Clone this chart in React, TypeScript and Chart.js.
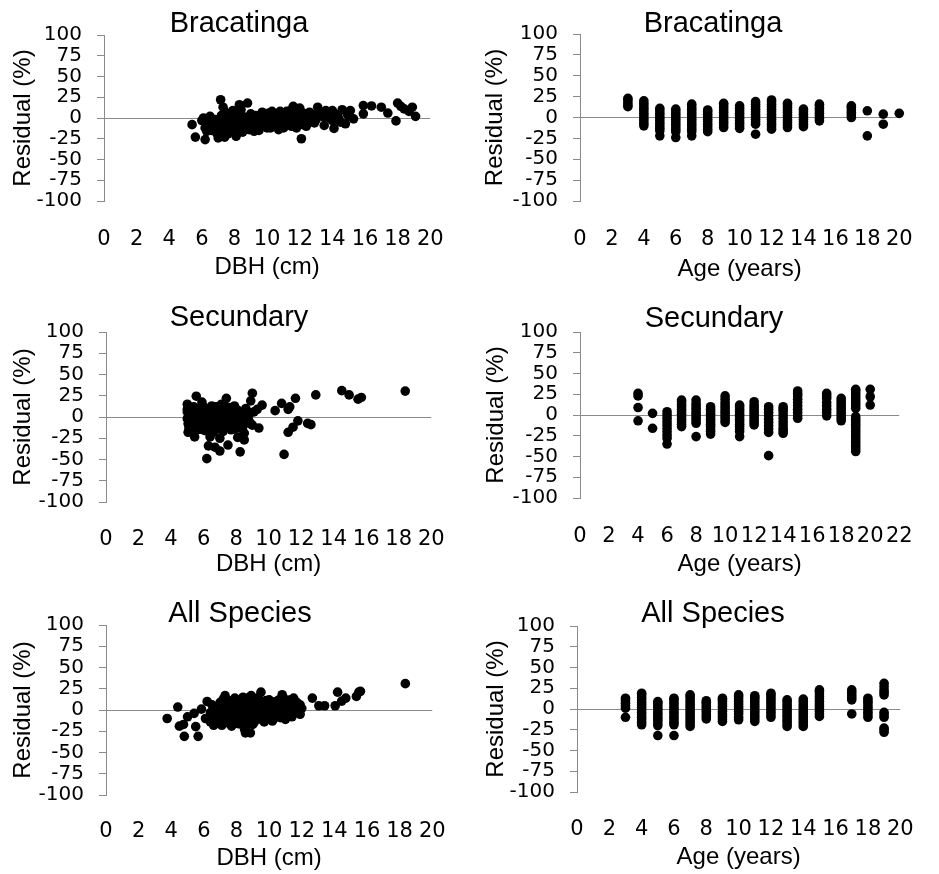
import React, { useEffect, useRef } from "react";
import { Chart, registerables } from "chart.js";

Chart.register(...registerables);

type Pair = [number, number];
type Column = [number, number[]];

// ---------- DATA ----------
const panelTitles = ["Bracatinga", "Bracatinga", "Secundary", "Secundary", "All Species", "All Species"];
const xAxisTitles = ["DBH (cm)", "Age (years)", "DBH (cm)", "Age (years)", "DBH (cm)", "Age (years)"];
const yAxisTitle = "Residual (%)";
const xMaxValues = [20, 20, 20, 22, 20, 20];
const xStep = 2;
const yMin = -100;
const yMax = 100;
const yStep = 25;

const bracatingaDbh: Pair[] = [
  [5.4, -8], [5.6, -23], [6.2, -26], [6.0, -3], [6.1, 0], [6.3, -8], [6.4, -12], [6.5, -5], [6.6, -15], [6.7, -9],
  [6.8, -2], [6.9, -14], [7.0, -24], [7.0, -6], [7.1, -11], [7.15, 22], [7.2, 3], [7.25, -18], [7.3, 13], [7.3, -4],
  [7.4, -23], [7.4, 8], [7.5, -9], [7.5, 0], [7.6, -14], [7.6, 5], [7.7, -3], [7.8, -10], [7.8, 2], [7.9, -6],
  [8.0, -16], [8.0, 6], [8.1, -22], [8.1, -1], [8.2, -8], [8.3, 16], [8.3, -12], [8.4, 3], [8.5, -5], [8.5, -17],
  [8.6, 1], [8.7, -9], [8.8, 18], [8.8, -3], [8.9, -14], [9.0, 5], [9.0, -7], [9.1, -1], [9.2, -11], [9.3, 3],
  [9.4, -5], [9.5, -15], [9.6, 0], [9.7, -8], [9.8, 4], [9.9, -3], [10.0, -12], [10.1, 6], [10.2, -6], [10.3, 0],
  [10.4, -9], [10.5, 4], [10.6, -2], [10.7, -14], [10.8, 8], [10.9, -5], [11.0, 1], [11.1, -10], [11.2, -3], [11.3, 5],
  [11.4, -8], [11.5, 10], [11.6, 14], [11.7, -1], [11.8, -12], [11.9, 3], [12.0, -6], [12.1, -25], [12.2, 6], [12.3, -2],
  [12.4, -10], [12.5, 2], [12.6, 7], [12.7, -4], [12.8, 4], [13.0, -2], [13.1, 13], [13.2, 8], [13.4, 2], [13.5, -9],
  [13.6, 9], [13.8, 5], [14.0, 9], [14.1, -12.5], [14.2, 0], [14.3, 4], [14.5, -5], [14.6, 10], [14.8, -7], [15.0, 2],
  [15.1, 9], [15.3, -1], [15.9, 15], [15.9, 5], [16.4, 14.5], [17.0, 13], [17.4, 6], [17.9, -3.5], [18.0, 18], [18.2, 14],
  [18.4, 11], [18.7, 8], [18.9, 13], [19.1, 2],
  [6.3, -16], [6.6, -6], [6.9, -18], [7.2, -8], [7.7, -16], [8.2, 0], [8.6, -10], [9.2, -16], [9.5, -1], [10.0, 2],
  [10.6, -8], [11.0, -12], [6.5, 2], [7.9, 9], [8.4, 10], [9.7, 7], [10.3, 8], [11.2, 8], [12.0, 12],
  [6.2, -12], [6.4, -4], [6.7, -13], [6.8, -7], [7.0, -16], [7.1, -2], [7.3, -12], [7.5, -6], [7.6, -19], [7.8, -13],
  [8.0, -4], [8.2, -15], [8.4, -8], [8.7, -2], [8.9, -10], [9.1, -6], [9.3, -13], [9.4, 1], [9.6, -10], [9.8, -6],
  [10.0, -4], [10.2, -12], [10.4, -3], [10.6, 2], [10.8, -9], [11.0, -6], [11.3, -2], [11.5, -10], [11.7, 3], [12.0, -1],
  [12.2, -8], [12.6, -3], [12.9, -6], [13.3, 6], [13.7, 1], [14.0, -3], [14.4, -1], [14.9, 5],
];

const bracatingaAge: Column[] = [
  [3, [13, 15, 18, 21, 23]],
  [4, [-10, -7, -4, -1, 2, 5, 8, 11, 14, 17, 20]],
  [5, [-22, -16, -13, -10, -7, -4, -1, 2, 5, 8, 11]],
  [6, [-24, -17, -14, -11, -8, -5, -2, 1, 4, 7, 10]],
  [7, [-22, -17, -14, -11, -8, -5, -2, 1, 4, 7, 10, 13, 16]],
  [8, [-17, -14, -11, -8, -5, -2, 1, 4, 7, 9]],
  [9, [-12, -9, -6, -3, 0, 3, 6, 9, 12, 15, 17]],
  [10, [-13, -10, -7, -4, -1, 2, 5, 8, 11, 14]],
  [11, [-20, -8, -5, -2, 1, 4, 7, 10, 13, 16, 19]],
  [12, [-14, -11, -8, -5, -2, 1, 4, 7, 10, 13, 16, 19, 21]],
  [13, [-12, -9, -6, -3, 0, 3, 6, 9, 12, 15, 17]],
  [14, [-11, -8, -5, -2, 1, 4, 7, 10]],
  [15, [-4, -1, 2, 5, 8, 11, 14, 16]],
  [17, [0, 3, 6, 9, 12, 14]],
  [18, [-22, 8]],
  [19, [-8, 4]],
  [20, [5]],
];

const secundaryDbh: Pair[] = [
  [5.0, 15], [5.0, 6], [5.0, -2], [5.05, -8], [5.05, -18], [5.1, 3], [5.2, -5], [5.2, 10], [5.3, -12], [5.4, 0],
  [5.45, -23.5], [5.5, 7], [5.55, 24.5], [5.6, -8], [5.6, -15], [5.7, 2], [5.8, 11], [5.8, -4], [5.9, 17.6], [5.9, -11],
  [6.0, -1], [6.0, 6], [6.1, -16], [6.2, -49], [6.2, 4], [6.2, -7], [6.3, -34], [6.3, 9], [6.4, -23.5], [6.4, -3],
  [6.5, 13], [6.5, -12], [6.6, 1], [6.6, -18], [6.7, -35.5], [6.7, 7], [6.8, -6], [6.8, -14], [6.9, 3], [6.9, 12],
  [7.0, -25], [7.0, -40], [7.0, -9], [7.1, 0], [7.1, 15], [7.2, -4], [7.2, -17], [7.3, 8], [7.4, 22], [7.4, -11],
  [7.5, -33], [7.5, 2], [7.6, -7], [7.6, 11], [7.7, -2], [7.7, -15], [7.8, 5], [7.9, -10], [7.9, 13], [8.0, -4],
  [8.0, 3], [8.1, -24], [8.1, 8], [8.2, -13], [8.25, -41], [8.3, 0], [8.4, -7], [8.5, -27], [8.5, -19], [8.5, 5],
  [8.6, 10], [8.7, -2], [8.8, 3], [8.9, 19], [8.9, -8], [9.0, 28], [9.0, -9.5], [9.1, 6], [9.3, 9], [9.4, -13],
  [9.6, 14], [10.4, 7.5], [10.8, 16], [10.95, -44], [11.2, -18], [11.2, 9], [11.3, 12], [11.5, -12], [11.65, 22], [11.8, -4.5],
  [12.4, -7.5], [12.6, -9], [12.9, 26], [14.5, 31], [14.95, 26], [15.5, 21], [15.7, 23], [18.4, 30.5],
  [5.3, 4], [5.7, -3], [6.0, -9], [6.3, 2], [6.5, -5], [6.8, 1], [7.0, 6], [7.3, -3], [7.5, -12], [7.8, -6],
  [8.0, 9], [8.3, -9], [5.5, -2], [6.1, -12], [6.6, 5], [7.2, 10], [7.6, -1], [8.2, 5], [6.4, -8], [6.9, -10],
  [7.4, 1], [5.8, -7], [6.2, -3], [7.9, 0], [8.6, -4],
  [5.1, -10], [5.2, 1], [5.3, 8], [5.4, -6], [5.5, -13], [5.6, 4], [5.7, 9], [5.8, -14], [5.9, 1], [6.0, 12],
  [6.0, -15], [6.1, -5], [6.2, 8], [6.3, -10], [6.4, 5], [6.5, -1], [6.5, 9], [6.6, -9], [6.7, -3], [6.7, 12],
  [6.8, 5], [6.9, -5], [7.0, 2], [7.0, -14], [7.1, -7], [7.2, 4], [7.3, -9], [7.3, 13], [7.4, -5], [7.5, 7],
  [7.6, -10], [7.7, 3], [7.8, -2], [7.8, 9], [7.9, -14], [8.0, -8], [8.1, 1], [8.2, -4], [8.3, 5], [8.4, -12],
  [8.5, -1], [8.6, 1], [8.7, 6], [8.8, -5], [5.0, 9], [5.1, -14], [5.4, 12], [5.6, -2], [6.2, -14], [6.9, 8],
];

const secundaryAge: Column[] = [
  [4, [-7, 9, 23, 26]],
  [5, [-16, 2]],
  [6, [-35, -28, -24, -20, -16, -12, -8, -4, 0, 4]],
  [7, [-14, -11, -8, -5, -2, 1, 4, 7, 10, 13, 16, 18]],
  [8, [-26, -10, -7, -4, -1, 2, 5, 8, 11, 14, 18]],
  [9, [-23, -20, -17, -14, -11, -8, -5, -2, 1, 4, 7, 10]],
  [10, [-9, -6, -3, 0, 3, 6, 9, 12, 15, 19, 23]],
  [11, [-26, -20, -17, -14, -11, -8, -5, -2, 1, 4, 7, 10, 12]],
  [12, [-12, -9, -6, -3, 0, 3, 6, 9, 12, 16]],
  [13, [-49, -21, -17, -13, -9, -5, -1, 3, 7, 10]],
  [14, [-22, -19, -16, -12, -8, -4, 0, 4, 7, 10]],
  [15, [-4, -1, 3, 7, 11, 15, 19, 23, 26, 29]],
  [17, [-1, 3, 7, 11, 15, 20, 23, 26]],
  [18, [-7, -4, -1, 2, 5, 8, 11, 14, 17, 20]],
  [19, [-44, -41, -38, -35, -32, -29, -26, -23, -20, -17, -14, -11, -8, -5, -2, 8, 11, 14, 17, 20, 23, 26, 29, 31]],
  [20, [12, 22, 31]],
];

const allSpeciesDbh: Pair[] = [
  [3.75, -10], [4.4, 3.5], [4.5, -19], [4.75, -17], [4.8, -31], [5.0, -8], [5.4, -4], [5.5, -19.5], [5.65, -31], [5.85, 1],
  [6.2, 10], [6.1, -10],
  [6.4, -3], [6.5, -12], [6.6, 4], [6.7, -8], [6.8, -15], [6.9, 1], [7.0, -5], [7.0, 9], [7.1, -18], [7.2, -10],
  [7.3, 17], [7.3, 3], [7.4, -2], [7.5, -14], [7.5, 11], [7.6, -7], [7.7, 6], [7.7, -19], [7.8, 0], [7.9, -11],
  [7.9, 14], [8.0, -4], [8.0, 5], [8.1, -16], [8.2, 10], [8.2, -8], [8.3, 1], [8.4, -13], [8.4, 15], [8.5, -23],
  [8.5, -3], [8.55, -27], [8.6, 7], [8.7, -10], [8.8, 2], [8.85, -27], [8.9, -6], [8.9, 17], [9.0, 10], [9.1, -14],
  [9.1, -1], [9.2, 5], [9.3, -9], [9.3, 14], [9.4, 0], [9.5, 21], [9.5, -5], [9.6, -12], [9.7, 8], [9.8, -3],
  [9.9, 3], [10.0, -8], [10.0, 12], [10.1, 0], [10.2, -5], [10.3, 6], [10.4, -2], [10.5, 9], [10.6, -7], [10.7, 2],
  [10.8, 18], [10.8, -3], [10.9, 5], [11.0, -11], [11.1, 1], [11.2, 8], [11.3, -4], [11.5, 14], [11.6, 0], [11.9, 6],
  [11.9, -5], [12.65, 14], [13.05, 5], [13.4, 5], [14.05, 5], [14.2, 21], [14.45, 10.5], [14.7, 14], [15.35, 16], [15.5, 21],
  [15.6, 22], [18.35, 31],
  [6.6, -18], [7.2, 13], [7.6, 2], [8.1, -1], [8.6, -18], [9.0, -17], [9.4, -8], [9.8, 6], [10.3, -10], [10.6, 4],
  [7.0, -12], [7.4, 7], [8.3, -6], [8.8, 11], [9.2, -4], [9.6, 3], [10.1, -11], [11.4, -8], [12.0, 2], [6.8, -1],
  [7.9, 4], [8.0, -13], [9.9, -6], [10.4, 10],
  [6.4, -14], [6.5, 6], [6.6, -9], [6.7, 2], [6.9, -12], [7.0, 0], [7.1, 5], [7.2, -4], [7.3, -15], [7.4, 12],
  [7.5, -9], [7.6, -3], [7.7, 9], [7.8, -12], [7.9, -6], [8.0, 12], [8.1, 6], [8.2, -3], [8.3, -17], [8.4, 4],
  [8.5, 9], [8.6, -7], [8.7, 14], [8.8, -13], [8.9, -1], [9.0, 4], [9.1, 9], [9.2, -10], [9.3, -2], [9.4, 12],
  [9.5, 1], [9.6, -7], [9.7, -14], [9.8, 11], [9.9, -10], [10.0, 4], [10.1, 8], [10.2, -13], [10.3, -1], [10.5, -5],
  [10.6, 12], [10.7, -9], [10.9, -2], [11.0, 7], [11.2, -6], [11.4, 4], [11.7, 9], [11.8, -2], [10.9, 14], [11.3, 12],
];

const allSpeciesAge: Column[] = [
  [3, [-10, 1, 4, 7, 10, 13]],
  [4, [-19, -16, -13, -10, -7, -4, -1, 2, 5, 8, 11, 14, 17, 19]],
  [5, [-32, -20, -17, -14, -11, -8, -5, -2, 1, 4, 7, 9]],
  [6, [-32, -19, -16, -13, -10, -7, -4, -1, 2, 5, 8, 11, 13]],
  [7, [-21, -18, -15, -12, -9, -6, -3, 0, 3, 6, 9, 12, 15, 17]],
  [8, [-12, -9, -6, -3, 0, 3, 6, 8, 10]],
  [9, [-15, -12, -9, -6, -3, 0, 3, 6, 9, 11, 13]],
  [10, [-13, -10, -6, -3, 0, 3, 6, 9, 12, 15, 17]],
  [11, [-15, -12, -9, -6, -3, 0, 3, 6, 9, 12, 14, 16]],
  [12, [-10, -7, -4, -1, 2, 5, 8, 11, 14, 17, 19]],
  [13, [-21, -18, -15, -12, -9, -6, -3, 0, 3, 6, 9, 11]],
  [14, [-21, -18, -15, -12, -9, -6, -3, 0, 3, 6, 9, 12]],
  [15, [-9, -6, -3, 0, 3, 6, 9, 12, 15, 18, 21, 23]],
  [17, [-6, 11, 14, 17, 20, 23]],
  [18, [-10, -7, -4, -1, 2, 5, 8, 10, 13]],
  [19, [-28, -25, -23, -10, -7, -4, 17, 20, 23, 27, 31]],
];

// ---------- LAYOUT (page pixel positions) ----------
type PanelLayout = {
  L: number; T: number; W: number; H: number;
  areaL: number; areaR: number; areaT: number; areaB: number;
  titleX: number; titleY: number; yTitleX: number; xTickY: number; xTitleY: number;
};

const panelLayouts: PanelLayout[] = [
  { L: 0, T: 0, W: 470, H: 290, areaL: 104, areaR: 450, areaT: 35, areaB: 201, titleX: 239, titleY: 24, yTitleX: 23, xTickY: 240, xTitleY: 267 },
  { L: 470, T: 0, W: 469, H: 290, areaL: 580, areaR: 925, areaT: 34, areaB: 201, titleX: 713, titleY: 24, yTitleX: 495, xTickY: 240, xTitleY: 269 },
  { L: 0, T: 290, W: 470, H: 290, areaL: 106, areaR: 451, areaT: 332, areaB: 502, titleX: 239, titleY: 318, yTitleX: 23, xTickY: 540, xTitleY: 564 },
  { L: 470, T: 290, W: 469, H: 290, areaL: 580, areaR: 925, areaT: 332, areaB: 498, titleX: 714, titleY: 319, yTitleX: 496, xTickY: 537, xTitleY: 564 },
  { L: 0, T: 580, W: 470, H: 294, areaL: 106, areaR: 452, areaT: 625, areaB: 795, titleX: 240, titleY: 614, yTitleX: 23, xTickY: 832, xTitleY: 858 },
  { L: 470, T: 580, W: 469, H: 294, areaL: 577, areaR: 923, areaT: 626, areaB: 792, titleX: 713, titleY: 614, yTitleX: 496, xTickY: 830, xTitleY: 857 },
];

const pairsToPoints = (pairs: Pair[]) => pairs.map(([x, y]) => ({ x, y }));
const columnsToPoints = (cols: Column[]) => cols.flatMap(([x, ys]) => ys.map((y) => ({ x, y })));

const panelData = [
  pairsToPoints(bracatingaDbh),
  columnsToPoints(bracatingaAge),
  pairsToPoints(secundaryDbh),
  columnsToPoints(secundaryAge),
  pairsToPoints(allSpeciesDbh),
  columnsToPoints(allSpeciesAge),
];

const SANS = '"Liberation Sans", Arial, sans-serif';
const TICK_FAMILY = '"DejaVu Sans", sans-serif';
const AXIS_TITLE_SIZE = 24;
const X_TICK_SIZE = 21;
const Y_TICK_SIZE = 20;
const PANEL_TITLE_SIZE = 29;
const GRAY = "#8a8a8a";

function Panel({ index }: { index: number }) {
  const ref = useRef<HTMLCanvasElement | null>(null);
  const lay = panelLayouts[index];

  useEffect(() => {
    if (!ref.current) return;
    const axisLH = AXIS_TITLE_SIZE * 1.2;
    const tickLH = X_TICK_SIZE * 1.2;
    const xScaleHeight = lay.xTitleY - lay.areaB + axisLH / 2;
    const yScaleWidth = lay.areaL - lay.L;
    const title = panelTitles[index];

    const titlePlugin = {
      id: "panelTitle" + index,
      afterDraw(chart: any) {
        const c = chart.ctx;
        c.save();
        c.font = `${PANEL_TITLE_SIZE}px ${SANS}`;
        c.fillStyle = "#000";
        c.textAlign = "center";
        c.textBaseline = "middle";
        c.fillText(title, lay.titleX - lay.L, lay.titleY - lay.T);
        c.restore();
      },
    };

    const chart = new Chart(ref.current, {
      type: "scatter",
      data: {
        datasets: [
          {
            data: panelData[index],
            pointRadius: 4.8,
            pointBackgroundColor: "#000",
            pointBorderWidth: 0,
            pointBorderColor: "#000",
            showLine: false,
            clip: false,
          },
        ],
      },
      options: {
        animation: false,
        responsive: false,
        events: [],
        layout: {
          padding: {
            left: 0,
            top: lay.areaT - lay.T,
            right: lay.L + lay.W - lay.areaR,
            bottom: lay.T + lay.H - lay.areaB - xScaleHeight,
          },
        },
        plugins: {
          legend: { display: false },
          tooltip: { enabled: false },
          title: { display: false },
        },
        scales: {
          x: {
            type: "linear",
            position: "bottom",
            min: 0,
            max: xMaxValues[index],
            ticks: {
              stepSize: xStep,
              autoSkip: false,
              maxRotation: 0,
              minRotation: 0,
              padding: lay.xTickY - lay.areaB - tickLH / 2,
              color: "#000",
              font: { family: TICK_FAMILY, size: X_TICK_SIZE },
            },
            grid: { display: false, drawTicks: false },
            border: { display: false },
            title: {
              display: true,
              text: xAxisTitles[index],
              color: "#000",
              font: { family: SANS, size: AXIS_TITLE_SIZE },
              padding: { top: 0, bottom: 0 },
            },
            afterFit: (s: any) => {
              s.height = xScaleHeight;
            },
          },
          y: {
            type: "linear",
            min: yMin,
            max: yMax,
            ticks: {
              stepSize: yStep,
              autoSkip: false,
              padding: 15,
              color: "#000",
              font: { family: TICK_FAMILY, size: Y_TICK_SIZE },
            },
            grid: {
              color: (ctx: any) => (ctx.tick && ctx.tick.value === 0 ? GRAY : "rgba(0,0,0,0)"),
              tickColor: GRAY,
              tickLength: 7,
              drawTicks: true,
              lineWidth: 1,
            },
            border: { display: true, color: GRAY, width: 1 },
            title: {
              display: true,
              text: yAxisTitle,
              color: "#000",
              font: { family: SANS, size: AXIS_TITLE_SIZE },
              padding: { top: lay.yTitleX - lay.L - axisLH / 2, bottom: 0 },
            },
            afterFit: (s: any) => {
              s.width = yScaleWidth;
            },
          },
        },
      } as any,
      plugins: [titlePlugin],
    });
    return () => chart.destroy();
  }, [index]);

  return (
    <div style={{ position: "absolute", left: lay.L, top: lay.T, width: lay.W, height: lay.H }}>
      <canvas ref={ref} width={lay.W} height={lay.H} style={{ width: lay.W, height: lay.H, display: "block" }} />
    </div>
  );
}

export default function App() {
  return (
    <div style={{ position: "absolute", left: 0, top: 0, width: 939, height: 874, background: "#fff", overflow: "hidden" }}>
      {panelLayouts.map((_, i) => (
        <Panel key={i} index={i} />
      ))}
    </div>
  );
}
